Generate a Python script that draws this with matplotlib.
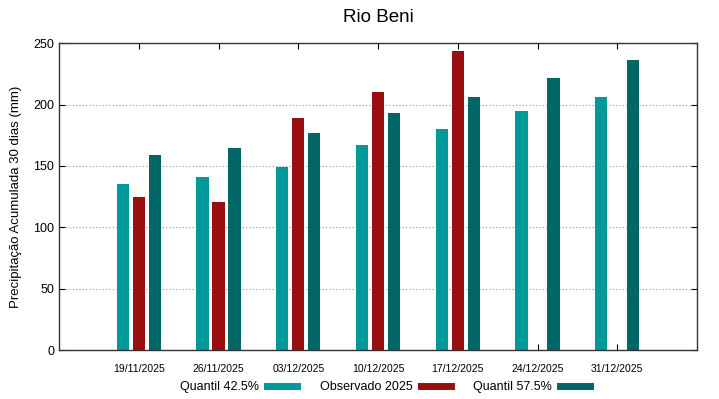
import matplotlib
matplotlib.use("Agg")
import matplotlib.pyplot as plt
import numpy as np
from matplotlib.lines import Line2D

plt.rcParams['font.family'] = ['Liberation Sans', 'DejaVu Sans']

dates = ["19/11/2025", "26/11/2025", "03/12/2025", "10/12/2025", "17/12/2025", "24/12/2025", "31/12/2025"]
q425 = [135, 141, 149.5, 167, 180, 195, 206]
obs2025 = [125, 121, 189, 210, 244, np.nan, np.nan]
q575 = [159, 165, 177, 193, 206.5, 221.5, 236.5]

c_q425 = "#009999"
c_obs = "#990e0e"
c_q575 = "#006666"

fig = plt.figure(figsize=(7.19, 3.99), dpi=100)
ax = fig.add_axes([0.0821, 0.1228, 0.8873, 0.7687])

x = np.arange(len(dates))
w = 0.154
off = 0.2
ax.bar(x - off, q425, w, color=c_q425, zorder=2)
ax.bar(x, obs2025, w, color=c_obs, zorder=2)
ax.bar(x + off, q575, w, color=c_q575, zorder=2)

ax.set_xlim(-1, 7)
ax.set_ylim(0, 250)
ax.set_xticks(x)
ax.set_xticklabels(dates, fontsize=7.5)
ax.set_yticks([0, 50, 100, 150, 200, 250])
ax.tick_params(axis='y', labelsize=9, direction='in', right=True, length=4)
ax.tick_params(axis='x', direction='in', top=True, length=4, pad=10)
ax.yaxis.grid(True, linestyle=(0, (1, 2)), color='#999999', linewidth=0.8, zorder=0)
ax.set_axisbelow(True)
for s in ax.spines.values():
    s.set_color('#333333')
    s.set_linewidth(1)

ax.set_ylabel("Precipitação Acumulada 30 dias (mm)", fontsize=9.5, labelpad=8)
ax.set_title("Rio Beni", fontsize=13.5, pad=15)

handles = [Line2D([], [], color=c_q425, lw=5),
           Line2D([], [], color=c_obs, lw=5),
           Line2D([], [], color=c_q575, lw=5)]
fig.legend(handles, ["Quantil 42.5%", "Observado 2025", "Quantil 57.5%"],
           loc='center', bbox_to_anchor=(0.5355, 0.030), ncol=3, frameon=False,
           markerfirst=False, fontsize=9, handlelength=2.4, columnspacing=1.8,
           handletextpad=0.65)

fig.savefig("out.png", dpi=100)
